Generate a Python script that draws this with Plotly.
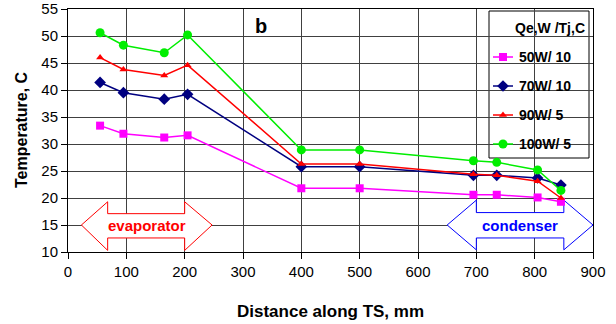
import plotly.graph_objects as go

distance = [55, 95, 165, 205, 400, 500, 695, 735, 805, 845]
t_50w = [33.4, 31.9, 31.2, 31.6, 21.8, 21.8, 20.6, 20.6, 20.1, 19.3]
t_70w = [41.4, 39.5, 38.3, 39.2, 25.8, 25.8, 24.2, 24.2, 23.7, 22.4]
t_90w = [46.0, 43.8, 42.7, 44.6, 26.3, 26.3, 24.4, 24.2, 23.1, 20.0]
t_100w = [50.6, 48.3, 46.9, 50.2, 28.9, 28.9, 26.9, 26.6, 25.2, 21.4]
series_names = ["50W/ 10", "70W/ 10", "90W/ 5", "100W/ 5"]
legend_title = "Qe,W /Tj,C"
x_ticks = [0, 100, 200, 300, 400, 500, 600, 700, 800, 900]
y_ticks = [10, 15, 20, 25, 30, 35, 40, 45, 50, 55]

FONT = "Liberation Sans, Arial, sans-serif"
W, H = 616, 324
L, R, T, B = 68, 593, 9, 252  # plot area in pixels

fig = go.Figure()

# region arrows (drawn beneath the lines)
evap_x = [23, 68, 68, 200, 200, 247, 200, 200, 68, 68, 23]
evap_y = [15, 19.3, 17.1, 17.1, 19.3, 15, 10.3, 12.6, 12.6, 10.3, 15]
cond_x = [650, 700, 700, 850, 850, 900, 850, 850, 700, 700, 650]
cond_y = [15, 19.6, 17.3, 17.3, 19.6, 15, 10.4, 12.6, 12.6, 10.4, 15]
fig.add_trace(go.Scatter(x=evap_x, y=evap_y, mode="lines", fill="toself",
                         fillcolor="white", line=dict(color="red", width=1),
                         showlegend=False, hoverinfo="skip", cliponaxis=False))
fig.add_trace(go.Scatter(x=cond_x, y=cond_y, mode="lines", fill="toself",
                         fillcolor="white", line=dict(color="blue", width=1),
                         showlegend=False, hoverinfo="skip", cliponaxis=False))

styles = [
    ("#ff00ff", "square", 8),
    ("#000080", "diamond", 9),
    ("#ff0000", "triangle-up", 7),
    ("#00ee00", "circle", 9),
]
all_series = [t_50w, t_70w, t_90w, t_100w]
for name, vals, (col, sym, sz) in zip(series_names, all_series, styles):
    fig.add_trace(go.Scatter(x=distance, y=vals, name=name, mode="lines+markers",
                             line=dict(color=col, width=1.5),
                             marker=dict(color=col, symbol=sym, size=sz),
                             showlegend=False, cliponaxis=False))

fig.add_annotation(x=135, y=15, text="<b>evaporator</b>", showarrow=False,
                   font=dict(color="red", size=15, family=FONT))
fig.add_annotation(x=775, y=15, text="<b>condenser</b>", showarrow=False,
                   font=dict(color="blue", size=15, family=FONT))
fig.add_annotation(x=331, y=51.8, text="<b>b</b>", showarrow=False,
                   font=dict(color="black", size=20, family=FONT))


def px(x):
    return (x - L) / (R - L)


def py(y):
    return (B - y) / (B - T)


# manual legend box (pixel coordinates)
fig.add_shape(type="rect", xref="paper", yref="paper",
              x0=px(489), x1=px(589), y0=py(158), y1=py(11),
              line=dict(color="black", width=1), fillcolor="white", layer="between")
fig.add_annotation(xref="paper", yref="paper", x=px(587), y=py(28), xanchor="right",
                   yanchor="middle", text="<b>" + legend_title + "</b>", showarrow=False,
                   font=dict(size=14, family=FONT, color="black"))
entry_y = [57, 86, 115, 144]
for name, (col, sym, sz), ey in zip(series_names, styles, entry_y):
    fig.add_trace(go.Scatter(x=[493, 513], y=[ey, ey], xaxis="x2", yaxis="y2",
                             mode="lines", line=dict(color=col, width=1.5),
                             showlegend=False, hoverinfo="skip"))
    fig.add_trace(go.Scatter(x=[503], y=[ey], xaxis="x2", yaxis="y2",
                             mode="markers", marker=dict(color=col, symbol=sym, size=sz),
                             showlegend=False, hoverinfo="skip"))
    fig.add_annotation(xref="paper", yref="paper", x=px(517), y=py(ey), xanchor="left",
                       yanchor="middle", text="<b>" + name + "</b>", showarrow=False,
                       font=dict(size=14, family=FONT, color="black"))

# axis titles
fig.add_annotation(xref="paper", yref="paper", x=px(330), y=py(311),
                   yanchor="middle", text="<b>Distance along TS, mm</b>", showarrow=False,
                   font=dict(size=17, family=FONT, color="black"))
fig.add_annotation(xref="paper", yref="paper", x=px(21), y=py(130), textangle=-90,
                   xanchor="center", yanchor="middle",
                   text="<b>Temperature, C</b>", showarrow=False,
                   font=dict(size=16, family=FONT, color="black"))

fig.update_layout(
    width=W, height=H,
    margin=dict(l=L, r=W - R, t=T, b=H - B, pad=0, autoexpand=False),
    paper_bgcolor="white", plot_bgcolor="white",
    font=dict(family=FONT, size=15, color="black"),
    showlegend=False,
    hovermode=False,
    xaxis=dict(range=[0, 900], tickvals=x_ticks, showgrid=True, gridcolor="#404040",
               gridwidth=1, showline=True, linecolor="black", linewidth=1, mirror=True,
               ticks="outside", ticklen=6, tickcolor="black", zeroline=False,
               automargin=False),
    yaxis=dict(range=[10, 55], tickvals=y_ticks, showgrid=True, gridcolor="#404040",
               gridwidth=1, showline=True, linecolor="black", linewidth=1, mirror=True,
               ticks="outside", ticklen=6, tickcolor="black", zeroline=False,
               automargin=False),
    xaxis2=dict(range=[L, R], overlaying="x", visible=False, fixedrange=True),
    yaxis2=dict(range=[B, T], overlaying="y", visible=False, fixedrange=True),
)

# remove the page's default body margin so the figure fills the window
fig.write_html("out.html", config={"displayModeBar": False},
               post_script="document.body.style.margin='0';document.body.style.overflow='hidden';")
